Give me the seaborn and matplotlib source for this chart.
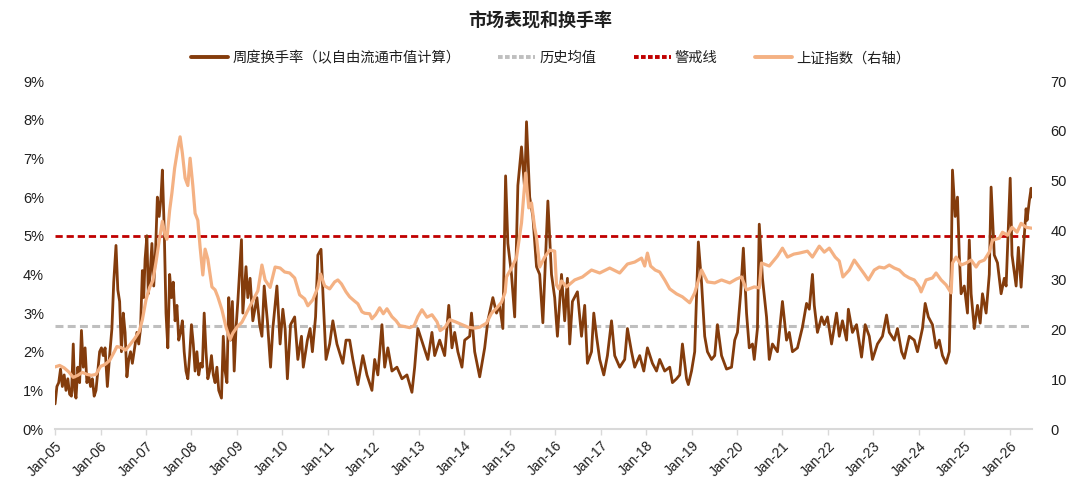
import pandas as pd
import matplotlib
matplotlib.use("Agg")
import matplotlib.pyplot as plt
import seaborn as sns
from matplotlib.ticker import FuncFormatter

sns.set_theme(style="white")
plt.rcParams["font.family"] = ["Liberation Sans", "Noto Sans CJK SC"]

# weekly turnover (% of free-float market cap)
turnover_dates = [
    2005.00, 2005.04, 2005.08, 2005.12, 2005.16, 2005.20, 2005.24, 2005.28, 2005.32, 2005.36, 2005.40, 2005.43, 2005.46,
    2005.50, 2005.54, 2005.58, 2005.62, 2005.66, 2005.70, 2005.74, 2005.78, 2005.82, 2005.86, 2005.90, 2005.94, 2005.98,
    2006.02, 2006.06, 2006.10, 2006.15, 2006.20, 2006.25, 2006.29, 2006.34, 2006.38, 2006.42, 2006.46, 2006.50, 2006.54,
    2006.58, 2006.62, 2006.66, 2006.70, 2006.75, 2006.80, 2006.84, 2006.88, 2006.92, 2006.95, 2006.98,
    2007.02, 2007.05, 2007.09, 2007.13, 2007.17, 2007.21, 2007.25, 2007.29, 2007.33, 2007.36, 2007.40, 2007.44, 2007.48,
    2007.52, 2007.56, 2007.60, 2007.64, 2007.68, 2007.72, 2007.76, 2007.80, 2007.84, 2007.88, 2007.92, 2007.96,
    2008.00, 2008.04, 2008.08, 2008.12, 2008.16, 2008.20, 2008.24, 2008.28, 2008.32, 2008.36, 2008.40, 2008.44, 2008.48,
    2008.52, 2008.56, 2008.60, 2008.66, 2008.70, 2008.74, 2008.78, 2008.82, 2008.86, 2008.90, 2008.94, 2008.98,
    2009.02, 2009.10, 2009.13, 2009.20, 2009.24, 2009.29, 2009.35, 2009.44, 2009.50, 2009.55, 2009.60, 2009.67, 2009.74,
    2009.79, 2009.88, 2009.95,
    2010.01, 2010.06, 2010.11, 2010.18, 2010.27, 2010.34, 2010.42, 2010.46, 2010.55, 2010.61, 2010.66, 2010.73, 2010.78,
    2010.85, 2010.90, 2010.96,
    2011.04, 2011.11, 2011.20, 2011.33, 2011.40, 2011.48, 2011.55, 2011.66, 2011.77, 2011.86, 2011.97,
    2012.03, 2012.10, 2012.19, 2012.25, 2012.32, 2012.41, 2012.52, 2012.63, 2012.74, 2012.85, 2012.91, 2012.98,
    2013.09, 2013.20, 2013.29, 2013.35, 2013.46, 2013.57, 2013.66, 2013.73, 2013.79, 2013.86, 2013.95,
    2014.01, 2014.12, 2014.16, 2014.23, 2014.34, 2014.45, 2014.52, 2014.63, 2014.71, 2014.78, 2014.85, 2014.91, 2014.96,
    2015.04, 2015.11, 2015.18, 2015.26, 2015.33, 2015.37, 2015.44, 2015.51, 2015.59, 2015.66, 2015.73, 2015.79, 2015.84,
    2015.92, 2015.99,
    2016.05, 2016.14, 2016.21, 2016.27, 2016.32, 2016.38, 2016.49, 2016.58, 2016.65, 2016.71, 2016.80, 2016.85, 2016.91,
    2016.98,
    2017.07, 2017.15, 2017.24, 2017.31, 2017.42, 2017.53, 2017.59, 2017.68, 2017.75, 2017.86, 2017.95,
    2018.03, 2018.14, 2018.23, 2018.30, 2018.41, 2018.52, 2018.58, 2018.67, 2018.74, 2018.80, 2018.89, 2018.93,
    2019.00, 2019.07, 2019.15, 2019.22, 2019.29, 2019.35, 2019.44, 2019.51, 2019.57, 2019.66, 2019.77, 2019.88, 2019.95,
    2020.01, 2020.08, 2020.14, 2020.21, 2020.27, 2020.34, 2020.38, 2020.45, 2020.49, 2020.56, 2020.65, 2020.71, 2020.78,
    2020.89,
    2021.00, 2021.09, 2021.15, 2021.22, 2021.33, 2021.44, 2021.53, 2021.59, 2021.66, 2021.70, 2021.77, 2021.86, 2021.92,
    2021.99,
    2022.08, 2022.19, 2022.25, 2022.32, 2022.41, 2022.45, 2022.54, 2022.63, 2022.74, 2022.82, 2022.91, 2022.98,
    2023.09, 2023.20, 2023.29, 2023.35, 2023.46, 2023.53, 2023.62, 2023.68, 2023.79, 2023.90, 2023.97,
    2024.08, 2024.14, 2024.21, 2024.30, 2024.38, 2024.45, 2024.52, 2024.60, 2024.67, 2024.71, 2024.74, 2024.80, 2024.85,
    2024.89, 2024.93,
    2025.00, 2025.07, 2025.11, 2025.15, 2025.22, 2025.29, 2025.35, 2025.40, 2025.48, 2025.55, 2025.59, 2025.66, 2025.73,
    2025.81, 2025.88, 2025.92,
    2026.01, 2026.05, 2026.14, 2026.19, 2026.25, 2026.32, 2026.36, 2026.38, 2026.43, 2026.47, 2026.49,
]
turnover_pct = [
    0.65, 1.1, 1.2, 1.55, 1.1, 1.4, 1.0, 1.3, 0.9, 0.85, 2.2, 1.0, 0.8,
    1.6, 1.2, 2.55, 1.6, 2.1, 1.2, 1.4, 1.1, 1.3, 0.85, 1.0, 1.5, 2.0,
    2.1, 1.9, 2.1, 1.1, 1.9, 2.6, 3.8, 4.75, 3.6, 3.3, 2.0, 3.0, 2.5,
    1.35, 1.8, 2.0, 1.7, 2.1, 2.5, 2.2, 2.6, 4.1, 3.4, 4.4,
    5.0, 3.5, 4.0, 4.8, 3.7, 4.6, 6.0, 5.5, 6.0, 6.7, 5.2, 3.0, 2.1,
    4.0, 3.4, 3.8, 2.8, 3.2, 2.3, 2.5, 2.8, 2.0, 1.5, 1.3, 1.9,
    2.7, 2.2, 1.5, 2.0, 1.4, 1.7, 1.6, 3.0, 2.0, 1.3, 1.5, 1.9, 1.4,
    1.2, 1.6, 1.0, 0.8, 2.4, 1.5, 1.2, 3.4, 2.3, 3.3, 1.5, 2.6,
    3.3, 4.9, 3.0, 4.2, 3.4, 3.9, 2.8, 3.4, 2.7, 2.4, 3.7, 2.8, 1.6,
    2.6, 3.7, 2.2,
    3.1, 2.6, 1.3, 2.7, 2.9, 1.8, 2.4, 1.6, 2.3, 2.6, 2.0, 2.9, 4.5,
    4.65, 3.3, 1.8,
    2.2, 2.8, 2.2, 1.7, 2.3, 2.3, 1.8, 1.15, 1.9, 1.4, 1.0,
    1.8, 1.4, 2.7, 1.6, 2.1, 1.5, 1.6, 1.3, 1.4, 0.95, 1.6, 2.6,
    2.2, 1.8, 2.5, 1.9, 2.3, 1.9, 3.2, 2.1, 2.5, 2.0, 1.6,
    2.3, 2.4, 3.0, 2.0, 1.35, 2.1, 2.8, 3.4, 3.0, 3.2, 2.6, 6.55, 4.8,
    4.0, 2.9, 6.3, 7.3, 6.2, 7.95, 6.0, 5.5, 4.2, 4.0, 2.75, 4.5, 5.9,
    4.0, 3.4,
    2.4, 4.0, 2.8, 3.9, 2.2, 3.3, 3.55, 2.4, 3.2, 1.7, 2.0, 3.0, 2.4,
    1.8,
    1.4, 1.9, 2.8, 1.9, 1.6, 1.8, 2.6, 2.0, 1.6, 1.9, 1.5,
    2.1, 1.7, 1.5, 1.8, 1.5, 1.6, 1.2, 1.3, 1.4, 2.2, 1.3, 1.15,
    1.5, 2.0, 4.84, 3.8, 2.4, 2.0, 1.8, 1.9, 2.7, 1.9, 1.55, 1.6, 2.3,
    2.5, 3.5, 4.68, 3.0, 2.1, 2.2, 1.8, 2.6, 5.3, 3.9, 2.9, 1.8, 2.2,
    2.0,
    3.3, 2.3, 2.5, 2.0, 2.1, 2.64, 3.25, 3.1, 4.0, 3.2, 2.5, 2.9, 2.7,
    2.9,
    2.2, 3.0, 2.4, 2.8, 2.3, 3.1, 2.5, 2.7, 1.86, 2.7, 2.4, 1.8,
    2.2, 2.4, 2.95, 2.5, 2.3, 2.6, 2.0, 1.83, 2.4, 2.3, 2.0,
    2.6, 3.25, 2.9, 2.7, 2.1, 2.3, 1.9, 1.7, 2.0, 4.0, 6.7, 5.5, 6.0,
    4.5, 3.5,
    3.7, 3.0, 4.89, 3.5, 2.6, 3.2, 2.74, 3.5, 3.0, 4.0, 6.26, 4.5, 4.3,
    3.5, 3.9, 3.7,
    6.49, 4.5, 3.7, 4.7, 3.67, 5.0, 5.7, 5.4, 5.9, 6.23, 6.0,
]

# Shanghai Composite (right axis, /100)
index_dates = [
    2005.00, 2005.10, 2005.20, 2005.30, 2005.40, 2005.50, 2005.60, 2005.70, 2005.80, 2005.90,
    2006.00, 2006.10, 2006.20, 2006.30, 2006.36, 2006.45, 2006.55, 2006.65, 2006.75, 2006.85, 2006.92,
    2007.00, 2007.08, 2007.15, 2007.22, 2007.30, 2007.36, 2007.42, 2007.46, 2007.52, 2007.57, 2007.63, 2007.70,
    2007.75, 2007.80, 2007.86, 2007.92, 2007.97,
    2008.03, 2008.08, 2008.14, 2008.19, 2008.25, 2008.30, 2008.36, 2008.45, 2008.52, 2008.58, 2008.67, 2008.76,
    2008.85, 2008.91,
    2009.00, 2009.11, 2009.22, 2009.33, 2009.46, 2009.55, 2009.62, 2009.73, 2009.84, 2009.95,
    2010.05, 2010.16, 2010.27, 2010.38, 2010.49, 2010.56, 2010.67, 2010.78, 2010.84, 2010.93,
    2011.04, 2011.15, 2011.22, 2011.30, 2011.40, 2011.48, 2011.58, 2011.66, 2011.75, 2011.81, 2011.92, 2011.97,
    2012.05, 2012.14, 2012.22, 2012.30, 2012.41, 2012.50, 2012.58, 2012.70, 2012.80, 2012.90, 2012.98,
    2013.07, 2013.18, 2013.29, 2013.40, 2013.47, 2013.58, 2013.68, 2013.80, 2013.90,
    2014.00, 2014.08, 2014.23, 2014.34, 2014.49, 2014.60, 2014.71, 2014.82, 2014.90, 2014.93,
    2015.04, 2015.15, 2015.26, 2015.35, 2015.42, 2015.48, 2015.55, 2015.59, 2015.66, 2015.77, 2015.88, 2015.99,
    2016.03, 2016.08, 2016.14, 2016.25, 2016.43, 2016.60, 2016.80, 2016.98,
    2017.20, 2017.42, 2017.59, 2017.75, 2017.90, 2017.97,
    2018.03, 2018.10, 2018.20, 2018.30, 2018.41, 2018.52, 2018.67, 2018.80, 2018.96,
    2019.07, 2019.22, 2019.35, 2019.51, 2019.66, 2019.84, 2019.99,
    2020.10, 2020.21, 2020.38, 2020.49, 2020.54, 2020.71, 2020.89,
    2021.00, 2021.11, 2021.25, 2021.37, 2021.55, 2021.66, 2021.81, 2021.92,
    2022.03, 2022.16, 2022.25, 2022.33, 2022.47, 2022.58, 2022.69, 2022.80, 2022.89,
    2023.02, 2023.13, 2023.24, 2023.35, 2023.46, 2023.57, 2023.68, 2023.79, 2023.90,
    2024.01, 2024.05, 2024.16, 2024.30, 2024.38, 2024.49, 2024.60, 2024.71, 2024.74, 2024.82, 2024.93,
    2025.04, 2025.15, 2025.26, 2025.33, 2025.44, 2025.55, 2025.62, 2025.77, 2025.84, 2025.95,
    2026.05, 2026.16, 2026.25, 2026.36, 2026.49,
]
index_level = [
    12.5, 12.8, 12.3, 11.5, 10.4, 10.8, 11.4, 11.0, 10.8, 11.0,
    12.6, 13.0, 13.8, 15.5, 16.6, 16.4, 15.9, 17.0, 18.2, 19.6, 22.0,
    26.0, 28.5, 29.8, 33.6, 38.5, 41.8, 39.0, 38.2, 44.0, 47.5, 52.5, 56.5,
    58.8, 55.5, 50.5, 49.0, 54.5,
    49.0, 43.4, 42.0, 36.6, 31.0, 36.2, 34.2, 28.6, 28.0, 26.6, 24.0, 20.5,
    18.0, 19.3,
    20.5, 21.5, 23.5, 25.5, 27.8, 33.0, 30.0, 28.5, 32.6, 32.4,
    31.6, 31.4, 30.4, 27.0, 26.2, 24.8, 26.0, 28.5, 31.2, 28.8,
    28.2, 29.6, 30.0, 29.2, 27.6, 26.6, 25.8, 25.2, 23.6, 23.3, 23.2, 22.2,
    23.0, 24.4, 23.2, 24.2, 22.6, 21.8, 20.8, 20.6, 20.4, 20.8, 22.6,
    24.0, 22.5, 23.0, 21.6, 19.8, 20.5, 22.0, 21.6, 21.2,
    20.8, 20.5, 20.3, 20.5, 21.3, 23.3, 24.3, 25.5, 27.5, 30.6,
    32.4, 34.5, 41.5, 51.5, 44.5, 45.5, 40.5, 38.6, 32.6, 34.6, 36.0, 35.8,
    29.0, 28.2, 29.8, 28.6, 30.0, 30.6, 32.0, 31.4,
    32.4, 31.4, 33.2, 33.6, 34.4, 32.8,
    35.4, 32.8, 32.0, 31.6, 30.0, 28.2, 27.2, 26.6, 25.4,
    27.4, 32.0, 29.6, 29.4, 30.0, 29.4, 30.2,
    30.6, 28.0, 28.6, 28.4, 33.4, 32.8, 34.8,
    36.4, 34.6, 35.2, 35.4, 35.8, 34.6, 36.8, 35.6,
    36.4, 34.6, 33.8, 30.6, 32.0, 34.0, 32.6, 31.2, 30.0,
    32.0, 32.6, 32.4, 33.0, 32.4, 32.0, 31.0, 30.4, 30.0,
    28.6, 27.6, 30.0, 30.4, 31.4, 30.0, 29.0, 27.4, 33.4, 34.6, 33.0,
    33.4, 34.0, 32.6, 33.6, 34.0, 35.6, 38.0, 38.4, 39.6, 39.0,
    40.6, 39.6, 41.4, 40.6, 40.4,
]

hist_mean = 2.67
warn_level = 5.0
years = list(range(2005, 2027))
year_labels = ["Jan-%02d" % (y % 100) for y in years]

name_turn = "周度换手率（以自由流通市值计算）"
name_mean = "历史均值"
name_warn = "警戒线"
name_index = "上证指数（右轴）"

turn_df = pd.DataFrame({"date": turnover_dates, "turnover": turnover_pct})
idx_df = pd.DataFrame({"date": index_dates, "level": index_level})

fig = plt.figure(figsize=(10.8, 4.92), dpi=100)
ax = fig.add_axes([0.051, 0.128, 0.905, 0.707])
ax2 = ax.twinx()

dash = (0, (2.6, 1.4))
ax.axhline(hist_mean, color="#bfbfbf", lw=2.2, ls=dash, zorder=1)
ax.axhline(warn_level, color="#c00000", lw=2.0, ls=dash, zorder=1)
sns.lineplot(data=turn_df, x="date", y="turnover", ax=ax, color="#843c0c", lw=2.0, zorder=2)
sns.lineplot(data=idx_df, x="date", y="level", ax=ax2, color="#f4b183", lw=2.3)

ax.set_xlim(2005, 2026.5)
ax.set_ylim(0, 9)
ax2.set_ylim(0, 70)
ax.set_yticks(range(0, 10))
ax2.set_yticks(range(0, 71, 10))
ax.yaxis.set_major_formatter(FuncFormatter(lambda v, p: "%d%%" % v))
ax.set_xticks(years)
ax.set_xticklabels(year_labels, rotation=45, ha="right", rotation_mode="anchor")
for a in (ax, ax2):
    a.set_xlabel("")
    a.set_ylabel("")
    for s in ["top", "left", "right", "bottom"]:
        a.spines[s].set_visible(False)
ax.spines["bottom"].set_visible(True)
ax.spines["bottom"].set_color("#d9d9d9")
ax.spines["bottom"].set_linewidth(1.5)
ax.tick_params(axis="x", bottom=True, length=4, width=1, color="#d9d9d9", labelsize=10, labelcolor="#1f1f1f", pad=3)
ax.tick_params(axis="y", left=False, length=0, labelsize=10.5, labelcolor="#1f1f1f", pad=8)
ax2.tick_params(axis="y", right=False, length=0, labelsize=10.5, labelcolor="#1f1f1f", pad=13)

fig.text(0.5, 0.957, "市场表现和换手率", ha="center", va="center", fontsize=13, fontweight="bold", color="#1f1f1f")

handles = [
    plt.Line2D([], [], color="#843c0c", lw=2.8),
    plt.Line2D([], [], color="#bfbfbf", lw=2.8, ls=(0, (1.2, 0.6))),
    plt.Line2D([], [], color="#c00000", lw=2.8, ls=(0, (1.2, 0.6))),
    plt.Line2D([], [], color="#f4b183", lw=2.8),
]
fig.legend(handles, [name_turn, name_mean, name_warn, name_index], loc="center",
           bbox_to_anchor=(0.51, 0.882), ncol=4, frameon=False, fontsize=10.3,
           handlelength=2.6, handletextpad=0.3, columnspacing=2.6,
           labelcolor="#1f1f1f")

fig.savefig("out.png", dpi=100)
